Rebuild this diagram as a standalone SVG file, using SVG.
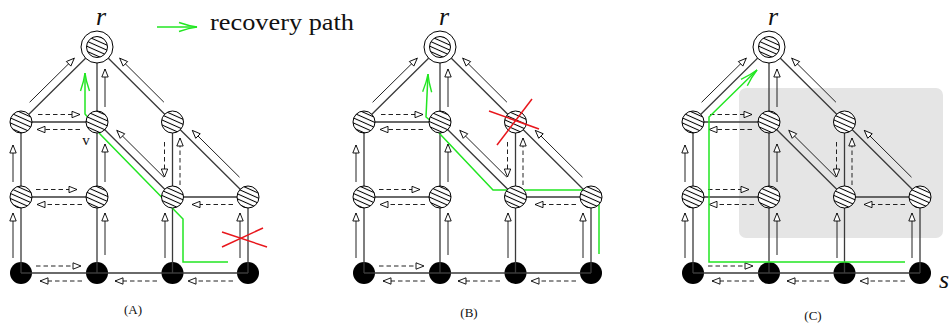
<svg xmlns="http://www.w3.org/2000/svg" width="951" height="327" viewBox="0 0 951 327">
<style>
.e{stroke:#3a3a3a;stroke-width:1.3;fill:none}
.a{stroke:#222;stroke-width:1;fill:none;marker-end:url(#oa)}
.d{stroke:#222;stroke-width:1;fill:none;stroke-dasharray:4.5 3;marker-end:url(#oa)}
.g{stroke:#22e622;stroke-width:1.5;fill:none}
.ga{marker-end:url(#ga)}
.x{stroke:#e8161c;stroke-width:1.5}
.hn{fill:url(#hatch);stroke:#000;stroke-width:1}
.ro{fill:#fff;stroke:#000;stroke-width:1}
.bn{fill:#000}
.lbl{font-family:"Liberation Serif",serif;fill:#111}
.it{font-style:italic}
</style>
<defs>
<pattern id="hatch" width="4.6" height="4.6" patternUnits="userSpaceOnUse" patternTransform="rotate(24)">
<rect width="4.6" height="4.6" fill="#fff"/>
<line x1="0" y1="2.3" x2="4.6" y2="2.3" stroke="#000" stroke-width="1"/>
</pattern>
<marker id="oa" viewBox="-9 -4.5 10 9" markerWidth="10" markerHeight="9" refX="0" refY="0" orient="auto" markerUnits="userSpaceOnUse">
<path d="M0,0 L-8,-3.2 L-8,3.2 Z" fill="#fff" stroke="#000" stroke-width="0.9" stroke-dasharray="none"/>
</marker>
<marker id="ga" viewBox="-20 -6 21 12" markerWidth="21" markerHeight="12" refX="0" refY="0" orient="auto" markerUnits="userSpaceOnUse">
<path d="M-18,-4.5 Q-8,-1 0,0 Q-8,1 -18,4.5" fill="none" stroke="#22e622" stroke-width="1.4"/>
</marker>
</defs>

<!-- legend -->
<g id="legend">
<line class="g ga" x1="157" y1="27" x2="197" y2="27"/>
<text class="lbl" x="210" y="30" font-size="24" textLength="144" lengthAdjust="spacingAndGlyphs">recovery path</text>
</g>

<!-- ================= Panel A ================= -->
<g id="panelA">
<g id="A-n31"><circle class="bn" cx="21" cy="273" r="11"/></g>
<g id="A-n32"><circle class="bn" cx="97" cy="273" r="11"/></g>
<g id="A-n33"><circle class="bn" cx="172.5" cy="273" r="11"/></g>
<g id="A-n34"><circle class="bn" cx="248" cy="273" r="11"/></g>
<g id="A-connectors">
<path class="e" d="M97,47 L21,122 M97,47 V122 M97,47 L172.5,122 M21,122 H97 M21,122 V197 M97,122 V197 M97,122 L172.5,197 M172.5,122 V197 M172.5,122 L248,197 M21,197 H97 M172.5,197 H248 M21,197 V273 M97,197 V273 M172.5,197 V273 M248,197 V273 M21,273 H172.5 H248"/>
<path class="a" d="M29.6,102.3 L74.3,58.2"/>
<path class="a" d="M105,107 V69"/>
<path class="a" d="M163.9,102.2 L119.7,58.2"/>
<path class="a" d="M13,182 V145"/>
<path class="a" d="M105,182 V144"/>
<path class="a" d="M163.9,177.2 L116.8,130.4"/>
<path class="a" d="M239.5,177.2 L192.3,130.4"/>
<path class="a" d="M13,258 V213"/>
<path class="a" d="M105,255 V213"/>
<path class="a" d="M165,258 V213"/>
<path class="a" d="M240,258 V213"/>
<path class="d" d="M38,114.5 H80"/>
<path class="d" d="M80,129.5 H37"/>
<path class="d" d="M164.5,142 V177"/>
<path class="d" d="M180,185 V138"/>
<path class="d" d="M36,189.5 H77"/>
<path class="d" d="M82,204.5 H37"/>
<path class="d" d="M233,204.5 H192"/>
<path class="d" d="M36,266 H81"/>
<path class="d" d="M82,281 H40"/>
<path class="d" d="M157,281 H115"/>
<path class="d" d="M233,281 H188"/>
<path class="g ga" d="M228,262 H183 V219 L100,134 L92,122 L85,114 V73"/>
<line class="x" x1="222" y1="232" x2="267" y2="247"/>
<line class="x" x1="222" y1="247" x2="263" y2="228"/>
</g>
<g id="A-r"><circle class="ro" cx="97" cy="47" r="16"/><circle class="hn" cx="97" cy="47" r="10.5"/></g>
<g id="A-n11"><circle class="hn" cx="21" cy="122" r="11"/></g>
<g id="A-n12"><circle class="hn" cx="97" cy="122" r="11"/></g>
<g id="A-n13"><circle class="hn" cx="172.5" cy="122" r="11"/></g>
<g id="A-n21"><circle class="hn" cx="21" cy="197" r="11"/></g>
<g id="A-n22"><circle class="hn" cx="97" cy="197" r="11"/></g>
<g id="A-n23"><circle class="hn" cx="172.5" cy="197" r="11"/></g>
<g id="A-n24"><circle class="hn" cx="248" cy="197" r="11"/></g>
<text class="lbl it" x="96" y="25" font-size="26">r</text>
<text class="lbl" x="86" y="145" font-size="15" text-anchor="middle">v</text>
</g>

<!-- ================= Panel B ================= -->
<g id="panelB" transform="translate(343,0)">
<g id="B-n31"><circle class="bn" cx="21" cy="273" r="11"/></g>
<g id="B-n32"><circle class="bn" cx="97" cy="273" r="11"/></g>
<g id="B-n33"><circle class="bn" cx="172.5" cy="273" r="11"/></g>
<g id="B-n34"><circle class="bn" cx="248" cy="273" r="11"/></g>
<g id="B-connectors">
<path class="e" d="M97,47 L21,122 M97,47 V122 M97,47 L172.5,122 M21,122 H97 M21,122 V197 M97,122 V197 M97,122 L172.5,197 M172.5,122 V197 M172.5,122 L248,197 M21,197 H97 M172.5,197 H248 M21,197 V273 M97,197 V273 M172.5,197 V273 M248,197 V273 M21,273 H172.5 H248"/>
<path class="a" d="M29.6,102.3 L74.3,58.2"/>
<path class="a" d="M105,107 V69"/>
<path class="a" d="M163.9,102.2 L119.7,58.2"/>
<path class="a" d="M13,182 V145"/>
<path class="a" d="M105,182 V144"/>
<path class="a" d="M163.9,177.2 L116.8,130.4"/>
<path class="a" d="M239.5,177.2 L192.3,130.4"/>
<path class="a" d="M13,258 V213"/>
<path class="a" d="M105,255 V213"/>
<path class="a" d="M165,258 V213"/>
<path class="a" d="M240,258 V213"/>
<path class="d" d="M38,114.5 H80"/>
<path class="d" d="M80,129.5 H37"/>
<path class="d" d="M164.5,142 V177"/>
<path class="d" d="M180,185 V138"/>
<path class="d" d="M36,189.5 H77"/>
<path class="d" d="M82,204.5 H37"/>
<path class="d" d="M233,204.5 H192"/>
<path class="d" d="M36,266 H81"/>
<path class="d" d="M82,281 H40"/>
<path class="d" d="M157,281 H115"/>
<path class="d" d="M233,281 H188"/>
<path class="g ga" d="M256,254 V205 L249,197 L240,190 H150 L97,134 L89,122 L83,117 L85,74"/>
</g>
<g id="B-r"><circle class="ro" cx="97" cy="47" r="16"/><circle class="hn" cx="97" cy="47" r="10.5"/></g>
<g id="B-n11"><circle class="hn" cx="21" cy="122" r="11"/></g>
<g id="B-n12"><circle class="hn" cx="97" cy="122" r="11"/></g>
<g id="B-n13"><circle class="hn" cx="172.5" cy="122" r="11"/></g>
<g id="B-n21"><circle class="hn" cx="21" cy="197" r="11"/></g>
<g id="B-n22"><circle class="hn" cx="97" cy="197" r="11"/></g>
<g id="B-n23"><circle class="hn" cx="172.5" cy="197" r="11"/></g>
<g id="B-n24"><circle class="hn" cx="248" cy="197" r="11"/></g>
<line class="x" x1="154" y1="145" x2="189" y2="99"/>
<line class="x" x1="146" y1="111" x2="196" y2="129"/>
<text class="lbl it" x="96" y="25" font-size="26">r</text>
</g>

<!-- ================= Panel C ================= -->
<g id="panelC" transform="translate(672,0)">
<rect x="67" y="88" width="204" height="150" rx="7" fill="#e5e5e5"/>
<g id="C-n31"><circle class="bn" cx="21" cy="273" r="11"/></g>
<g id="C-n32"><circle class="bn" cx="97" cy="273" r="11"/></g>
<g id="C-n33"><circle class="bn" cx="172.5" cy="273" r="11"/></g>
<g id="C-n34"><circle class="bn" cx="248" cy="273" r="11"/></g>
<g id="C-connectors">
<path class="e" d="M97,47 L21,122 M97,47 V122 M97,47 L172.5,122 M21,122 H97 M21,122 V197 M97,122 V197 M97,122 L172.5,197 M172.5,122 V197 M172.5,122 L248,197 M21,197 H97 M172.5,197 H248 M21,197 V273 M97,197 V273 M172.5,197 V273 M248,197 V273 M21,273 H172.5 H248"/>
<path class="a" d="M29.6,102.3 L74.3,58.2"/>
<path class="a" d="M105,107 V69"/>
<path class="a" d="M163.9,102.2 L119.7,58.2"/>
<path class="a" d="M13,182 V145"/>
<path class="a" d="M105,182 V144"/>
<path class="a" d="M163.9,177.2 L116.8,130.4"/>
<path class="a" d="M239.5,177.2 L192.3,130.4"/>
<path class="a" d="M13,258 V213"/>
<path class="a" d="M105,255 V213"/>
<path class="a" d="M165,258 V213"/>
<path class="a" d="M240,258 V213"/>
<path class="d" d="M38,114.5 H80"/>
<path class="d" d="M80,129.5 H37"/>
<path class="d" d="M164.5,142 V177"/>
<path class="d" d="M180,185 V138"/>
<path class="d" d="M36,189.5 H77"/>
<path class="d" d="M82,204.5 H37"/>
<path class="d" d="M233,204.5 H192"/>
<path class="d" d="M36,266 H81"/>
<path class="d" d="M82,281 H40"/>
<path class="d" d="M157,281 H115"/>
<path class="d" d="M233,281 H188"/>
<path class="g ga" d="M233,262 H37 V117 L85,70"/>
</g>
<g id="C-r"><circle class="ro" cx="97" cy="47" r="16"/><circle class="hn" cx="97" cy="47" r="10.5"/></g>
<g id="C-n11"><circle class="hn" cx="21" cy="122" r="11"/></g>
<g id="C-n12"><circle class="hn" cx="97" cy="122" r="11"/></g>
<g id="C-n13"><circle class="hn" cx="172.5" cy="122" r="11"/></g>
<g id="C-n21"><circle class="hn" cx="21" cy="197" r="11"/></g>
<g id="C-n22"><circle class="hn" cx="97" cy="197" r="11"/></g>
<g id="C-n23"><circle class="hn" cx="172.5" cy="197" r="11"/></g>
<g id="C-n24"><circle class="hn" cx="248" cy="197" r="11"/></g>
<text class="lbl it" x="96" y="25" font-size="26">r</text>
<text class="lbl it" x="267" y="288" font-size="26">s</text>
</g>

<text class="lbl" x="133" y="314" font-size="13" text-anchor="middle">(A)</text>
<text class="lbl" x="469" y="317" font-size="13" text-anchor="middle">(B)</text>
<text class="lbl" x="813" y="320" font-size="13" text-anchor="middle">(C)</text>
</svg>
